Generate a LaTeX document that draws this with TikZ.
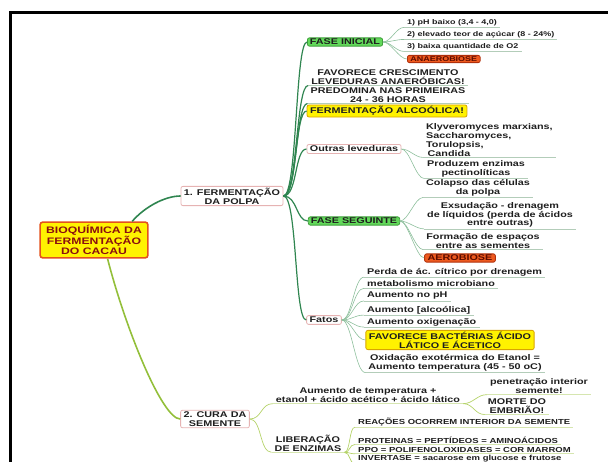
\documentclass[tikz,border=0pt]{standalone}
\usepackage{fontspec}
\usepackage{xcolor}
\usepackage{tikz}
\newfontfamily\mapfont{Liberation Sans}[FakeStretch=1.3]
\definecolor{inktext}{HTML}{1E1E1E}
\definecolor{rootfill}{HTML}{FFF200}
\definecolor{rootedge}{HTML}{E3521C}
\definecolor{roottext}{HTML}{8A0F0F}
\definecolor{pinkedge}{HTML}{E6B3B3}
\definecolor{greenfill}{HTML}{62D95A}
\definecolor{greenedge}{HTML}{3E9F3A}
\definecolor{yellowfill}{HTML}{FFF200}
\definecolor{yellowedge}{HTML}{D9A400}
\definecolor{orangefill}{HTML}{EE5A1F}
\definecolor{orangeedge}{HTML}{B0300C}
\definecolor{orangetext}{HTML}{5C0C00}
\definecolor{polpagreen}{HTML}{2F8550}
\definecolor{leafgreen}{HTML}{8DBF9C}
\definecolor{ulgreen}{HTML}{B3CDB9}
\definecolor{curagreen}{HTML}{93BF3A}
\definecolor{leaflime}{HTML}{B5D36A}
\definecolor{ullime}{HTML}{D6E6B0}

\tikzset{
    txt/.style={font=\mapfont\bfseries\fontsize{8.3}{8.8}\selectfont, text=inktext, align=center},
    smalltxt/.style={font=\mapfont\bfseries\fontsize{7.3}{8}\selectfont},
    tinytxt/.style={font=\mapfont\bfseries\fontsize{6.9}{7.5}\selectfont},
    leaf/.style={txt, inner xsep=3pt, inner ysep=1pt},
    rootbox/.style={txt, font=\mapfont\bfseries\fontsize{9.4}{10}\selectfont, text=roottext,
        fill=rootfill, draw=rootedge, line width=1.6pt, rounded corners=2.5pt,
        inner xsep=6pt, inner ysep=3pt},
    mainbox/.style={txt, fill=white, draw=pinkedge, line width=0.8pt, rounded corners=2pt,
        inner xsep=3pt, inner ysep=1.5pt},
    greenbox/.style={txt, fill=greenfill, draw=greenedge, line width=0.8pt, rounded corners=2pt,
        inner xsep=2.5pt, inner ysep=1.2pt},
    yellowbox/.style={txt, fill=yellowfill, draw=yellowedge, line width=0.8pt, rounded corners=2pt,
        inner xsep=3pt, inner ysep=1.5pt},
    orangebox/.style={txt, fill=orangefill, draw=orangeedge, line width=0.8pt, rounded corners=2pt,
        text=orangetext, inner xsep=3pt, inner ysep=1.2pt},
    polpaline/.style={draw=polpagreen, line width=1.2pt},
    leafline/.style={draw=leafgreen, line width=0.6pt},
    uline/.style={draw=ulgreen, line width=0.6pt},
    curaline/.style={draw=curagreen, line width=1.2pt},
    limeline/.style={draw=leaflime, line width=0.7pt},
    ulime/.style={draw=ullime, line width=0.6pt}
}

\begin{document}
\begin{tikzpicture}[x=1pt, y=-1pt]
    \useasboundingbox (0,0) rectangle (608,462);
    \draw[line width=3pt] (608,13) -- (10,13) -- (10,462);

    % root and main branches
    \node[rootbox] (root) at (94,240) {BIOQUÍMICA DA\\FERMENTAÇÃO\\DO CACAU};
    \node[mainbox] (polpa) at (232,196) {1. FERMENTAÇÃO\\DA POLPA};
    \node[mainbox] (cura) at (215,419) {2. CURA DA\\SEMENTE};

    % 1. fermentacao da polpa
    \node[greenbox] (inicial) at (345,42) {FASE INICIAL};
    \node[leaf, tinytxt, anchor=west] (ph) at (404,23) {1) pH baixo (3,4 - 4,0)};
    \node[leaf, tinytxt, anchor=west] (teor) at (404,35) {2) elevado teor de açúcar (8 - 24\%)};
    \node[leaf, tinytxt, anchor=west] (oxig) at (404,47) {3) baixa quantidade de O2};
    \node[orangebox, tinytxt, anchor=west] (anaer) at (407,59) {ANAEROBIOSE};
    \node[leaf] (favor) at (388,77) {FAVORECE CRESCIMENTO\\LEVEDURAS ANAERÓBICAS!};
    \node[leaf] (predom) at (388,95) {PREDOMINA NAS PRIMEIRAS\\24 - 36 HORAS};
    \node[yellowbox] (alcool) at (387,111) {FERMENTAÇÃO ALCOÓLICA!};

    \node[mainbox] (outras) at (354,149) {Outras leveduras};
    \node[leaf, align=left, anchor=west] (klyv) at (423,140)
        {Klyveromyces marxians,\\Saccharomyces,\\Torulopsis,\\\hspace{1.5pt}Candida};
    \node[leaf] (pectin) at (476,169) {Produzem enzimas\\pectinolíticas};

    \node[greenbox] (seguinte) at (354,221) {FASE SEGUINTE};
    \node[leaf] (colapso) at (478,188) {Colapso das células\\da polpa};
    \node[leaf] (exsud) at (500,215) {Exsudação - drenagem\\de líquidos (perda de ácidos\\entre outras)};
    \node[leaf] (formacao) at (483,241) {Formação de espaços\\entre as sementes};
    \node[orangebox] (aerob) at (460,258) {AEROBIOSE};

    \node[mainbox] (fatos) at (324,320) {Fatos};
    \node[leaf, anchor=west] (perda) at (364,272) {Perda de ác. cítrico por drenagem};
    \node[leaf, anchor=west] (metab) at (364,284) {metabolismo microbiano};
    \node[leaf, anchor=west] (ph2) at (364,296) {Aumento no pH};
    \node[leaf, anchor=west] (alc2) at (364,310) {Aumento [alcoólica]};
    \node[leaf, anchor=west] (oxi2) at (364,322) {Aumento oxigenação};
    \node[yellowbox] (bact) at (450,340) {FAVORECE BACTÉRIAS ÁCIDO\\LÁTICO E ÁCETICO};
    \node[leaf] (oxid) at (455,363) {Oxidação exotérmica do Etanol =\\Aumento temperatura (45 - 50 oC)};

    % 2. cura da semente
    \node[leaf] (aum) at (368,395) {Aumento de temperatura +\\etanol + ácido acético + ácido lático};
    \node[leaf] (penet) at (539,386) {penetração interior\\semente!};
    \node[leaf] (morte) at (517,406) {MORTE DO\\EMBRIÃO!};
    \node[leaf] (liber) at (308,443) {LIBERAÇÃO\\DE ENZIMAS};
    \node[leaf, smalltxt, anchor=west] (reac) at (355,422) {REAÇÕES OCORREM INTERIOR DA SEMENTE};
    \node[leaf, smalltxt, anchor=west] (prot) at (355,440) {PROTEINAS = PEPTÍDEOS = AMINOÁCIDOS};
    \node[leaf, smalltxt, anchor=west] (ppo) at (355,450) {PPO = POLIFENOLOXIDASES = COR MARROM};
    \node[leaf, smalltxt, anchor=west] (invert) at (355,459) {INVERTASE = sacarose em glucose e frutose};

    % underlines
    \foreach \n in {ph,teor,oxig,favor,predom,klyv,pectin,colapso,exsud,formacao,perda,metab,ph2,alc2,oxi2,oxid}
        \draw[uline] (\n.south west) -- (\n.south east);
    \foreach \n in {aum,penet,morte,liber,reac,prot,ppo,invert}
        \draw[ulime] (\n.south west) -- (\n.south east);

    % connectors
    \draw[polpaline, line width=1.6pt] (root.26) .. controls +(12,-14) and +(-16,0) .. (polpa.west);
    \draw[curaline, line width=1.6pt] (root.-54) .. controls +(18,70) and +(-18,0) .. (cura.west);
    \foreach \c/\a in {inicial/west,favor/south west,predom/south west,alcool/west,outras/west,seguinte/west,fatos/west}
        \draw[polpaline] (polpa.east) .. controls +(14,0) and +(-12,0) .. (\c.\a);
    \foreach \c/\a in {ph/south west,teor/south west,oxig/south west,anaer/west}
        \draw[leafline] (inicial.east) .. controls +(8,0) and +(-8,0) .. (\c.\a);
    \foreach \c in {klyv,pectin}
        \draw[leafline] (outras.east) .. controls +(8,0) and +(-8,0) .. (\c.south west);
    \foreach \c/\a in {colapso/south west,exsud/south west,formacao/south west,aerob/west}
        \draw[leafline] (seguinte.east) .. controls +(8,0) and +(-8,0) .. (\c.\a);
    \foreach \c/\a in {perda/south west,metab/south west,ph2/south west,alc2/south west,oxi2/south west,bact/west,oxid/south west}
        \draw[leafline] (fatos.east) .. controls +(10,0) and +(-10,0) .. (\c.\a);
    \foreach \c in {aum,liber}
        \draw[limeline] (cura.east) .. controls +(12,0) and +(-12,0) .. (\c.south west);
    \foreach \c in {penet,morte}
        \draw[limeline] (aum.south east) .. controls +(10,0) and +(-10,0) .. (\c.south west);
    \foreach \c in {reac,prot,ppo,invert}
        \draw[limeline] (liber.south east) .. controls +(6,0) and +(-6,0) .. (\c.south west);
\end{tikzpicture}
\end{document}
